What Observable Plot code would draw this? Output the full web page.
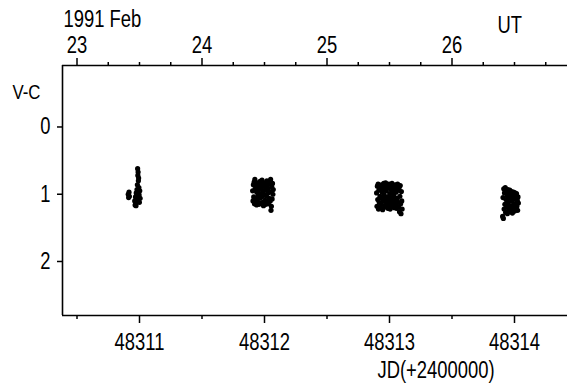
<!DOCTYPE html>
<html>
<head>
<meta charset="utf-8">
<script src="https://cdn.jsdelivr.net/npm/d3@7"></script>
<script src="https://cdn.jsdelivr.net/npm/@observablehq/plot@0.6"></script>
<style>
  html, body { margin: 0; padding: 0; background: #fff; }
</style>
</head>
<body>
<div id="chart"></div>
<script>
// ---- data ----
const night1 = [
  [48310.910, 1.00], [48310.913, 1.05], [48310.916, 0.97], [48310.919, 1.03],
  [48310.962, 1.10], [48310.965, 1.16], [48310.968, 1.04], [48310.971, 1.13],
  [48310.974, 0.98], [48310.977, 1.08], [48310.980, 0.93], [48310.983, 0.86],
  [48310.985, 0.62], [48310.987, 0.72], [48310.989, 0.67], [48310.991, 0.80],
  [48310.993, 0.76], [48310.995, 0.90], [48310.997, 1.01], [48310.999, 1.12],
  [48311.002, 0.95], [48311.005, 1.06], [48310.972, 1.17], [48310.978, 1.01]
];
const night2 = [
  [48311.905, 0.95], [48311.908, 1.10], [48311.911, 0.86], [48311.914, 1.04],
  [48311.917, 0.82], [48311.920, 1.14], [48311.923, 0.78], [48311.926, 0.92],
  [48311.929, 1.07], [48311.932, 0.84], [48311.935, 1.16], [48311.938, 0.97],
  [48311.941, 0.88], [48311.944, 1.11], [48311.947, 0.83], [48311.950, 1.02],
  [48311.953, 0.93], [48311.956, 1.15], [48311.959, 0.87], [48311.962, 1.06],
  [48311.965, 0.81], [48311.968, 0.99], [48311.971, 1.13], [48311.974, 0.90],
  [48311.977, 1.04], [48311.980, 0.79], [48311.983, 0.85], [48311.986, 1.12],
  [48311.989, 0.95], [48311.992, 1.17], [48311.995, 0.88], [48311.998, 1.01],
  [48312.001, 0.83], [48312.004, 1.09], [48312.007, 0.94], [48312.010, 1.15],
  [48312.013, 0.86], [48312.016, 1.03], [48312.019, 0.80], [48312.022, 1.12],
  [48312.025, 0.91], [48312.028, 0.98], [48312.031, 1.14], [48312.034, 0.85],
  [48312.037, 1.06], [48312.040, 0.82], [48312.043, 0.96], [48312.046, 1.10],
  [48312.049, 0.78], [48312.052, 1.24], [48312.055, 1.18], [48312.058, 0.89],
  [48312.061, 1.07], [48312.064, 0.84], [48312.067, 1.00], [48312.070, 0.93]
];
const night3 = [
  [48312.897, 0.98], [48312.900, 1.18], [48312.903, 0.88], [48312.906, 1.08],
  [48312.909, 0.85], [48312.912, 1.22], [48312.915, 0.94], [48312.918, 1.12],
  [48312.921, 0.87], [48312.924, 1.03], [48312.927, 1.20], [48312.930, 0.91],
  [48312.933, 1.14], [48312.936, 0.86], [48312.939, 1.06], [48312.942, 0.97],
  [48312.945, 1.23], [48312.948, 0.89], [48312.951, 1.10], [48312.954, 0.84],
  [48312.957, 1.01], [48312.960, 1.17], [48312.963, 0.92], [48312.966, 1.07],
  [48312.969, 0.83], [48312.972, 1.19], [48312.975, 0.95], [48312.978, 1.13],
  [48312.981, 0.88], [48312.984, 1.04], [48312.987, 1.21], [48312.990, 0.90],
  [48312.993, 1.09], [48312.996, 0.85], [48312.999, 1.16], [48313.002, 0.99],
  [48313.005, 1.22], [48313.008, 0.87], [48313.011, 1.11], [48313.014, 0.93],
  [48313.017, 1.05], [48313.020, 0.84], [48313.023, 1.18], [48313.026, 0.96],
  [48313.029, 1.13], [48313.032, 0.89], [48313.035, 1.02], [48313.038, 1.20],
  [48313.041, 0.91], [48313.044, 1.08], [48313.047, 0.86], [48313.050, 1.15],
  [48313.053, 0.97], [48313.056, 1.21], [48313.059, 0.88], [48313.062, 1.06],
  [48313.065, 0.85], [48313.068, 1.12], [48313.071, 0.94], [48313.074, 1.19],
  [48313.077, 0.90], [48313.080, 1.26], [48313.083, 1.03], [48313.086, 0.87],
  [48313.089, 1.14], [48313.092, 1.29], [48313.095, 0.96], [48313.098, 1.10],
  [48313.101, 1.22]
];
const night4 = [
  [48313.905, 1.33], [48313.908, 1.05], [48313.911, 1.36], [48313.914, 0.92],
  [48313.917, 1.22], [48313.920, 0.98], [48313.923, 1.15], [48313.926, 0.90],
  [48313.929, 1.27], [48313.932, 1.08], [48313.935, 0.95], [48313.938, 1.19],
  [48313.941, 1.02], [48313.944, 1.29], [48313.947, 0.93], [48313.950, 1.12],
  [48313.953, 1.24], [48313.956, 0.99], [48313.959, 1.17], [48313.962, 0.94],
  [48313.965, 1.06], [48313.968, 1.26], [48313.971, 1.00], [48313.974, 1.20],
  [48313.977, 0.96], [48313.980, 1.10], [48313.983, 1.28], [48313.986, 1.03],
  [48313.989, 1.16], [48313.992, 0.97], [48313.995, 1.23], [48313.998, 1.07],
  [48314.001, 1.25], [48314.004, 0.98], [48314.007, 1.14], [48314.010, 1.21],
  [48314.013, 1.01], [48314.016, 0.99], [48314.019, 1.18], [48314.022, 1.09],
  [48314.025, 1.24], [48314.028, 1.04], [48314.031, 1.13]
];

// axes
const jdTicks = [48311, 48312, 48313, 48314];
const jdMinorTicks = [48310.5, 48311.5, 48312.5, 48313.5];
const utTicks = [48310.5, 48311.5, 48312.5, 48313.5];
const utLabels = ["23", "24", "25", "26"];
const utMinorTicks = [48310.75, 48311.0, 48311.25, 48311.75, 48312.0, 48312.25,
                      48312.75, 48313.0, 48313.25, 48313.75, 48314.0, 48314.25];
const yTicks = [0, 1, 2];
const xDomain = [48310.384, 48314.424];
const yDomain = [-0.914, 2.803];

const topLeftTitle = "1991 Feb";
const topRightTitle = "UT";
const yTitle = "V-C";
const xTitle = "JD(+2400000)";

// ---- chart ----
const data = [...night1, ...night2, ...night3, ...night4].map(([jd, vc]) => ({jd, vc}));
const FONT = "'Liberation Sans', Arial, sans-serif";

const chart = Plot.plot({
  width: 567,
  height: 386,
  marginLeft: 62,
  marginRight: 0,
  marginTop: 65,
  marginBottom: 71,
  style: {fontFamily: FONT, fontSize: "23px", color: "black", background: "white"},
  x: {domain: xDomain},
  y: {domain: yDomain, reverse: true},
  marks: [
    Plot.ruleX([xDomain[0]], {stroke: "black", strokeWidth: 1.6}),
    Plot.ruleY(yDomain, {stroke: "black", strokeWidth: 1.6}),
    Plot.axisX({anchor: "bottom", ticks: jdTicks, tickSize: 8, tickPadding: 10, tickFormat: "d",
                label: null, fontSize: 23, strokeWidth: 1.5}),
    Plot.axisX({anchor: "bottom", ticks: jdMinorTicks, tickSize: 4, tickFormat: () => "",
                label: null, strokeWidth: 1.5}),
    Plot.axisX({anchor: "top", ticks: utTicks, tickSize: 8, tickPadding: 5,
                tickFormat: d => utLabels[utTicks.indexOf(d)], label: null, fontSize: 23, strokeWidth: 1.5}),
    Plot.axisX({anchor: "top", ticks: utMinorTicks, tickSize: 4, tickFormat: () => "",
                label: null, strokeWidth: 1.5}),
    Plot.axisY({ticks: yTicks, tickSize: 5, tickPadding: 7, tickFormat: "d", label: null,
                fontSize: 23, strokeWidth: 1.5}),
    Plot.dot(data, {x: "jd", y: "vc", r: 2.6, fill: "black", stroke: null}),
    Plot.text([topLeftTitle], {frameAnchor: "top-left", dx: 1, dy: -39, textAnchor: "start",
                               lineAnchor: "bottom", fontSize: 23}),
    Plot.text([topRightTitle], {frameAnchor: "top-left", dx: 435, dy: -33, textAnchor: "start",
                                lineAnchor: "bottom", fontSize: 23}),
    Plot.text([yTitle], {frameAnchor: "top-left", dx: -50, dy: 33, textAnchor: "start",
                         lineAnchor: "bottom", fontSize: 21}),
    Plot.text([xTitle], {frameAnchor: "bottom-left", dx: 315, dy: 62, textAnchor: "start",
                         lineAnchor: "bottom", fontSize: 23})
  ]
});
document.getElementById("chart").appendChild(chart);

// narrow the glyphs horizontally, like the condensed lettering of the original
chart.querySelectorAll("text").forEach(t => {
  const w = t.getComputedTextLength();
  if (w > 0) {
    t.setAttribute("textLength", (w * 0.8).toFixed(1));
    t.setAttribute("lengthAdjust", "spacingAndGlyphs");
  }
});
</script>
</body>
</html>
